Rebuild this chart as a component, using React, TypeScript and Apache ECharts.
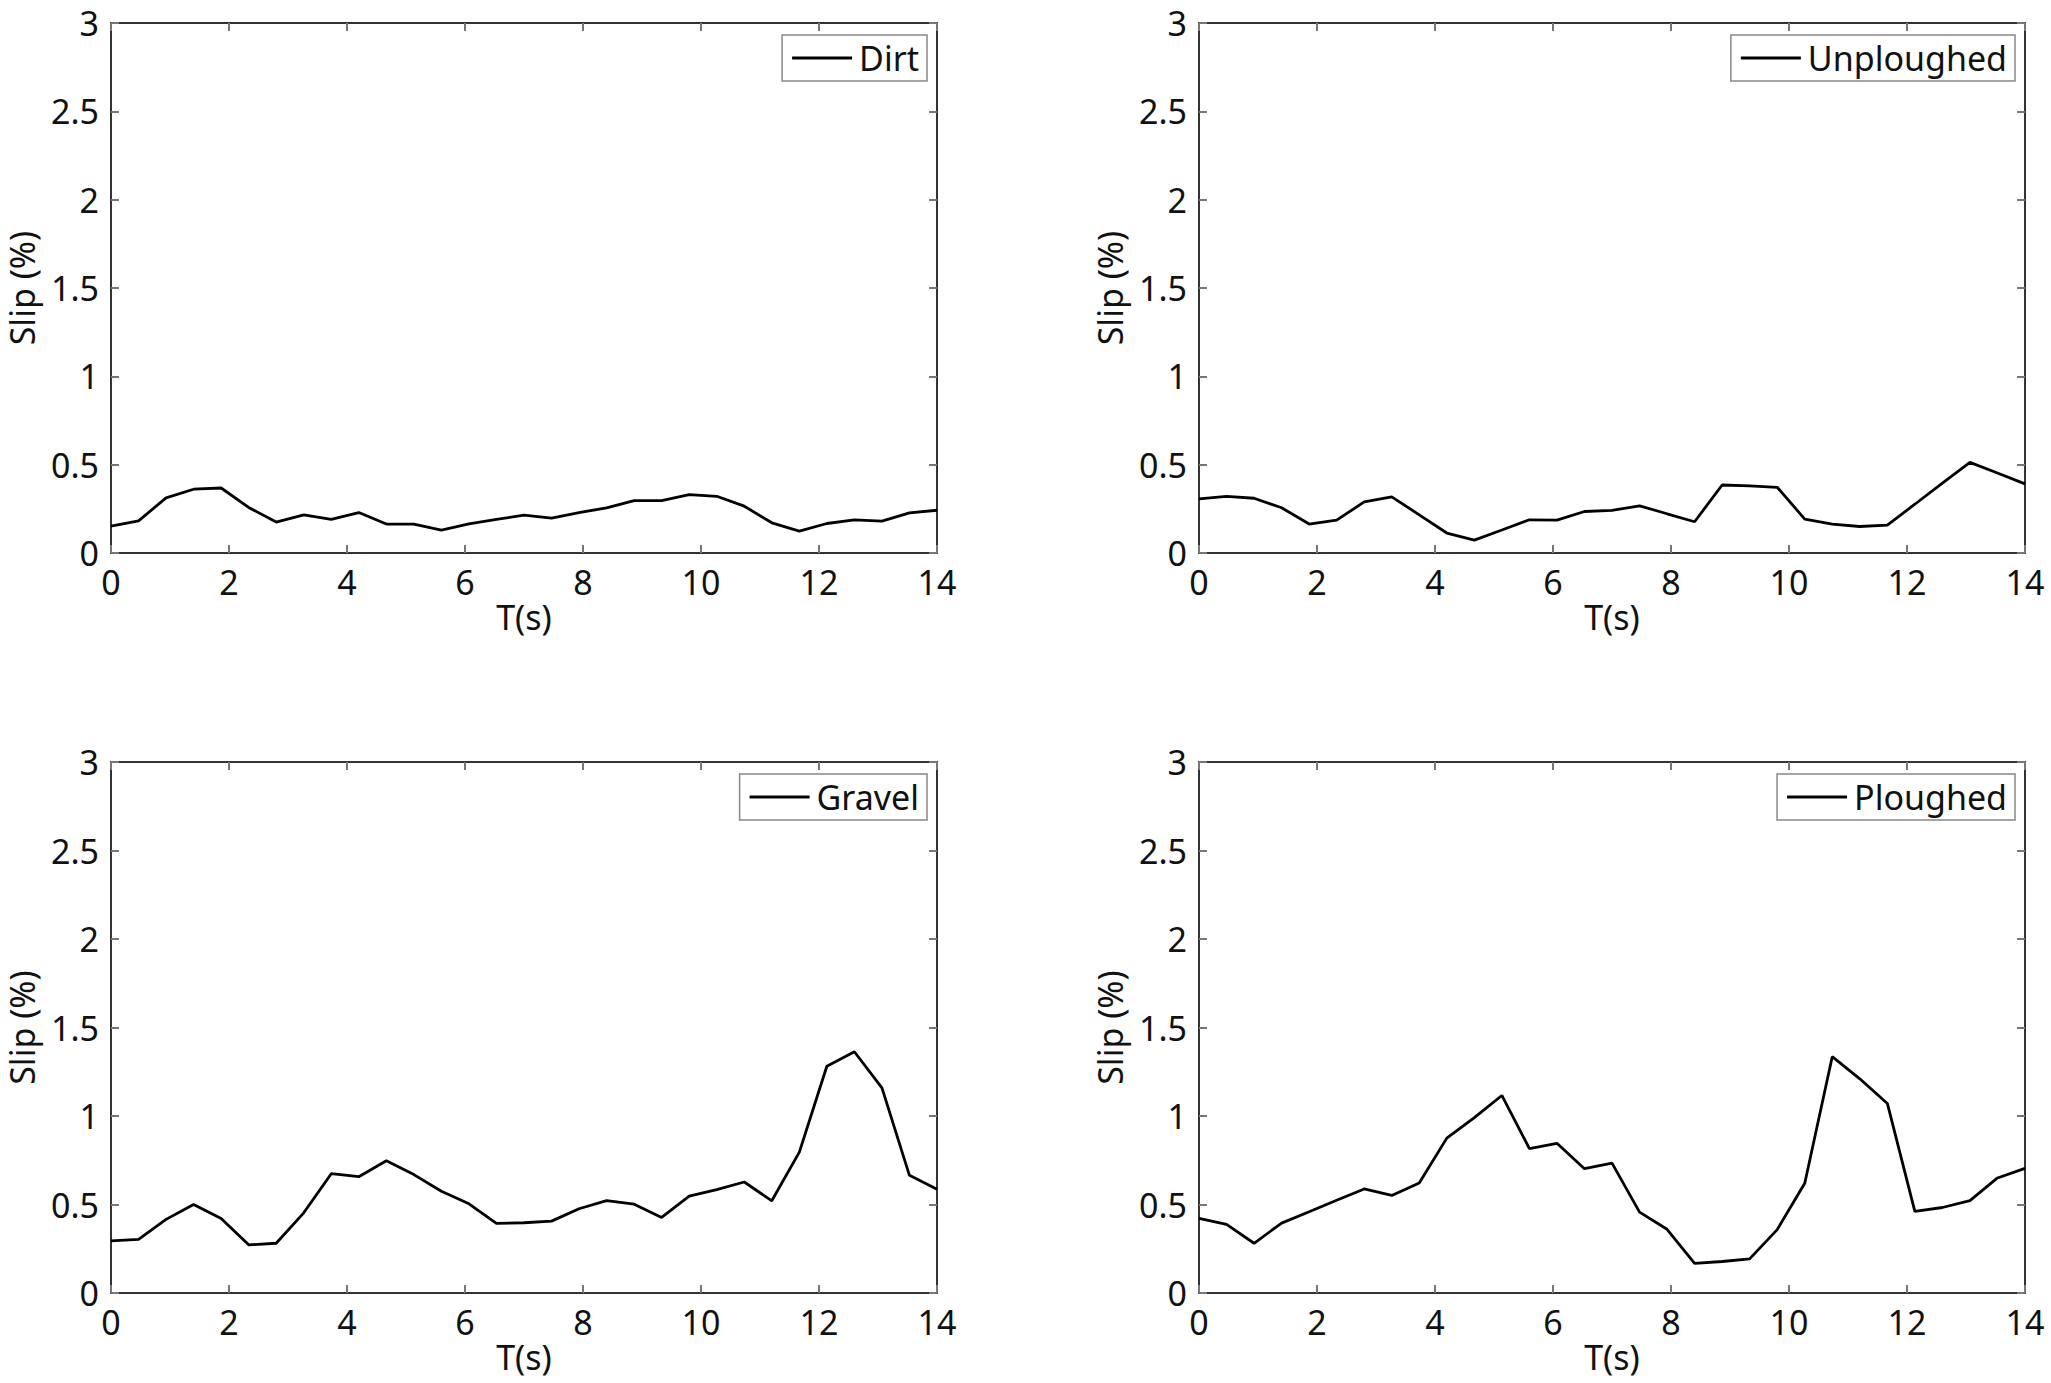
import React, { useEffect, useRef } from "react";
import * as echarts from "echarts";

const T = [0, 0.467, 0.933, 1.4, 1.867, 2.333, 2.8, 3.267, 3.733, 4.2, 4.667, 5.133, 5.6, 6.067, 6.533, 7.0, 7.467, 7.933, 8.4, 8.867, 9.333, 9.8, 10.267, 10.733, 11.2, 11.667, 12.133, 12.6, 13.067, 13.533, 14];

const dirt = [0.152, 0.182, 0.312, 0.361, 0.368, 0.258, 0.175, 0.216, 0.19, 0.229, 0.164, 0.164, 0.13, 0.165, 0.19, 0.214, 0.197, 0.229, 0.256, 0.297, 0.297, 0.331, 0.321, 0.265, 0.171, 0.124, 0.167, 0.188, 0.18, 0.227, 0.242];
const unploughed = [0.306, 0.32, 0.31, 0.256, 0.164, 0.186, 0.289, 0.318, 0.216, 0.113, 0.073, 0.13, 0.188, 0.186, 0.235, 0.241, 0.267, 0.222, 0.177, 0.385, 0.38, 0.372, 0.192, 0.164, 0.15, 0.158, 0.276, 0.395, 0.513, 0.453, 0.391];
const gravel = [0.294, 0.303, 0.416, 0.5, 0.421, 0.272, 0.281, 0.453, 0.674, 0.657, 0.747, 0.669, 0.575, 0.504, 0.393, 0.397, 0.406, 0.476, 0.522, 0.502, 0.427, 0.547, 0.584, 0.627, 0.521, 0.796, 1.281, 1.363, 1.159, 0.665, 0.586];
const ploughed = [0.421, 0.388, 0.281, 0.395, 0.459, 0.524, 0.588, 0.551, 0.622, 0.875, 0.991, 1.116, 0.816, 0.846, 0.702, 0.734, 0.457, 0.36, 0.167, 0.178, 0.193, 0.358, 0.62, 1.335, 1.21, 1.071, 0.461, 0.483, 0.522, 0.65, 0.704];

const panelNames = ["Dirt", "Unploughed", "Gravel", "Ploughed"];
const panelValues = [dirt, unploughed, gravel, ploughed];
const xLabel = "T(s)";
const yLabel = "Slip (%)";

const FONT = "Noto Sans";
const grids = [
  { left: 111, top: 23, width: 826, height: 530 },
  { left: 1199, top: 23, width: 826, height: 530 },
  { left: 111, top: 762, width: 826, height: 531 },
  { left: 1199, top: 762, width: 826, height: 531 },
];

export default function App() {
  const ref = useRef<HTMLDivElement>(null);
  useEffect(() => {
    if (!ref.current) return;
    const chart = echarts.init(ref.current, undefined, { renderer: "svg" });
    const axisLine = { show: true, onZero: false, lineStyle: { color: "#333", width: 2 } };
    const axisTick = { show: true, inside: true, length: 8, lineStyle: { color: "#777", width: 2 } };
    const labelStyle = { color: "#111", fontSize: 34, fontFamily: FONT, lineHeight: 34 };
    const xAxis: any[] = [];
    const yAxis: any[] = [];
    const series: any[] = [];
    const legend: any[] = [];
    grids.forEach((g, i) => {
      xAxis.push({
        type: "value", gridIndex: i, min: 0, max: 14, interval: 2, position: "bottom",
        axisLine, axisTick, splitLine: { show: false },
        axisLabel: { ...labelStyle, margin: 12 },
        name: xLabel, nameLocation: "middle", nameGap: 47,
        nameTextStyle: { ...labelStyle },
      });
      xAxis.push({
        type: "value", gridIndex: i, min: 0, max: 14, interval: 2, position: "top",
        axisLine, axisTick, splitLine: { show: false }, axisLabel: { show: false },
      });
      yAxis.push({
        type: "value", gridIndex: i, min: 0, max: 3, interval: 0.5, position: "left",
        axisLine, axisTick, splitLine: { show: false },
        axisLabel: { ...labelStyle, margin: 12 },
        name: yLabel, nameLocation: "middle", nameGap: 72, nameRotate: 90,
        nameTextStyle: { ...labelStyle, padding: [0, 0, 0, 0] },
      });
      yAxis.push({
        type: "value", gridIndex: i, min: 0, max: 3, interval: 0.5, position: "right",
        axisLine, axisTick, splitLine: { show: false }, axisLabel: { show: false },
      });
      series.push({
        type: "line", name: panelNames[i], xAxisIndex: 2 * i, yAxisIndex: 2 * i,
        data: T.map((t, k) => [t, panelValues[i][k]]),
        symbol: "none", lineStyle: { color: "#000", width: 2.8 }, itemStyle: { color: "#000" },
      });
      legend.push({
        data: [panelNames[i]],
        right: 2051 - (g.left + g.width) + 10,
        top: g.top + 12,
        orient: "vertical",
        backgroundColor: "#fff",
        borderColor: "#888",
        borderWidth: 1.5,
        borderRadius: 0,
        padding: [6, 8, 6, 10],
        icon: "rect",
        itemWidth: 60,
        itemHeight: 3,
        itemStyle: { color: "#000", borderWidth: 0 },
        selectedMode: false,
        textStyle: { ...labelStyle, lineHeight: 34, padding: [0, 0, 0, 2] },
      });
    });
    chart.setOption({
      animation: false,
      backgroundColor: "#fff",
      grid: grids,
      xAxis,
      yAxis,
      series,
      legend,
    });
    return () => chart.dispose();
  }, []);
  return (
    <div
      ref={ref}
      style={{ position: "fixed", left: 0, top: 0, width: 2051, height: 1383, background: "#fff" }}
    />
  );
}
